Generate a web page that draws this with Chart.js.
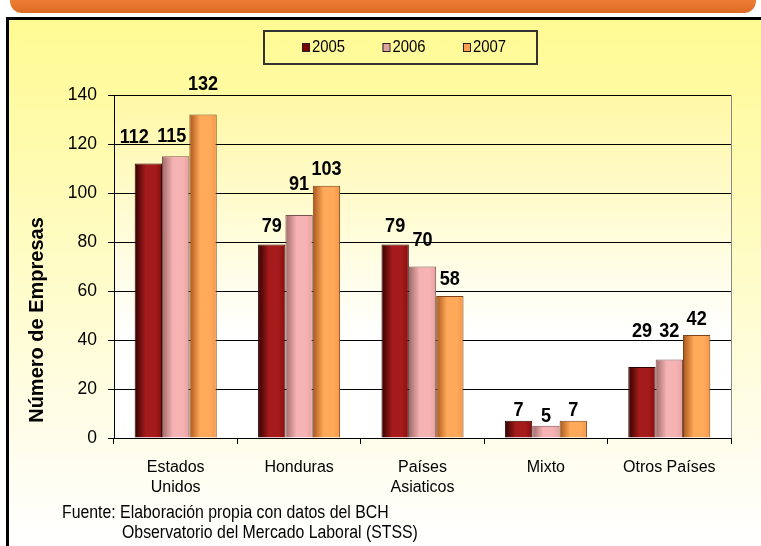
<!DOCTYPE html>
<html>
<head>
<meta charset="utf-8">
<script src="https://cdn.jsdelivr.net/npm/chart.js@4.4.1/dist/chart.umd.min.js"></script>
<style>
  html, body { margin: 0; padding: 0; background: #fff; }
  #wrap { width: 761px; height: 546px; position: relative; }
</style>
</head>
<body>
<div id="wrap"><canvas id="grafico" width="761" height="546"></canvas></div>
<script>
// Datos
const categorias = [['Estados', 'Unidos'], 'Honduras', ['Países', 'Asiaticos'], 'Mixto', 'Otros Países'];
const anios = ['2005', '2006', '2007'];
const valores2005 = [112, 79, 79, 7, 29];
const valores2006 = [115, 91, 70, 5, 32];
const valores2007 = [132, 103, 58, 7, 42];
const ejeMin = 0, ejeMax = 140, ejePaso = 20;
const tituloEje = 'Número de Empresas';
const fuente = ['Fuente: Elaboración propia con datos del BCH', 'Observatorio del Mercado Laboral (STSS)'];

// Estilo
const FAM = 'Arial, "Liberation Sans", sans-serif';
const CAT_PCT = 0.665;
const colores = [
  { dark: '#320000', light: '#a51b1b', mid: '#880c0c', line: '#2a0000', flat: '#800000' },
  { dark: '#a06868', light: '#f6b3b3', mid: '#e8a0a0', line: '#7a5050', flat: '#e0a0a0' },
  { dark: '#a8561a', light: '#ffaa5a', mid: '#f59848', line: '#7a4216', flat: '#ff9f4f' },
];
// separacion (px) entre la barra y su etiqueta, como en el original
const sepEtiqueta = [[21, 12, 12, 5, 30], [14, 25, 21, 4, 23], [25, 11, 11, 5, 10]];
const despX = [[-14, 0, 0, 0, 0], [-4, 0, 0, 0, 0], [0, 0, 0, 0, 0]];

// texto algo comprimido en horizontal, como el original
function texto(ctx, s, x, y, sx) {
  ctx.save();
  ctx.translate(x, y); ctx.scale(sx, 1);
  ctx.fillText(s, 0, 0);
  ctx.restore();
}

function rellenoBarra(ctx) {
  const c = colores[ctx.datasetIndex], chart = ctx.chart, xs = chart.scales.x;
  if (ctx.type !== 'data' || !xs || !chart.chartArea) return c.flat;
  const catW = (xs.right - xs.left) / categorias.length;
  const grupo = catW * CAT_PCT, ancho = grupo / anios.length;
  const x0 = xs.getPixelForValue(ctx.dataIndex) - grupo / 2 + ctx.datasetIndex * ancho;
  const g = chart.ctx.createLinearGradient(x0, 0, x0 + ancho, 0);
  g.addColorStop(0, c.dark); g.addColorStop(0.4, c.light); g.addColorStop(0.75, c.light); g.addColorStop(1, c.mid);
  return g;
}

const fondo = {
  id: 'fondo',
  beforeDraw(chart) {
    const { ctx, chartArea: a } = chart;
    ctx.save();
    // panel amarillo degradado
    let g = ctx.createLinearGradient(0, 18, 0, 546);
    g.addColorStop(0, '#fffa92'); g.addColorStop(0.75, '#fffde6'); g.addColorStop(1, '#ffffff');
    ctx.fillStyle = g; ctx.fillRect(7, 18, 761, 546);
    // area de trazado
    g = ctx.createLinearGradient(0, a.top, 0, a.bottom);
    g.addColorStop(0, '#fff8a6'); g.addColorStop(0.7, '#ffffff'); g.addColorStop(1, '#ffffff');
    ctx.fillStyle = g; ctx.fillRect(a.left, a.top, a.right - a.left, a.bottom - a.top);
    // franja naranja superior
    g = ctx.createLinearGradient(0, 0, 0, 14);
    g.addColorStop(0, '#ec7e33'); g.addColorStop(1, '#dc6a22');
    ctx.fillStyle = g;
    ctx.beginPath(); ctx.roundRect(10, -14, 746, 27, 12); ctx.fill();
    // marco negro
    ctx.strokeStyle = '#000'; ctx.lineWidth = 3;
    ctx.beginPath(); ctx.moveTo(7.5, 546); ctx.lineTo(7.5, 18.5); ctx.lineTo(761, 18.5); ctx.stroke();
    ctx.restore();
  },
  afterDraw(chart) {
    const { ctx, chartArea: a } = chart;
    ctx.save();
    // borde derecho del area de trazado
    ctx.strokeStyle = '#8a8a8a'; ctx.lineWidth = 1;
    ctx.beginPath(); ctx.moveTo(a.right + 0.5, a.top); ctx.lineTo(a.right + 0.5, a.bottom); ctx.stroke();
    // leyenda
    ctx.strokeStyle = '#333'; ctx.lineWidth = 2;
    ctx.strokeRect(264, 31, 273, 33);
    ctx.font = '16px ' + FAM; ctx.textBaseline = 'middle'; ctx.textAlign = 'left';
    anios.forEach((y, i) => {
      const x = 302 + i * 80.5;
      ctx.fillStyle = colores[i].flat; ctx.fillRect(x, 43, 7, 8);
      ctx.strokeStyle = '#222'; ctx.lineWidth = 1; ctx.strokeRect(x + 0.5, 43.5, 7, 8);
      ctx.fillStyle = '#000'; texto(ctx, y, x + 10, 48, 0.93);
    });
    // titulo del eje
    ctx.save();
    ctx.translate(43, 320); ctx.rotate(-Math.PI / 2);
    ctx.font = 'bold 20px ' + FAM; ctx.textAlign = 'center'; ctx.textBaseline = 'alphabetic';
    ctx.fillText(tituloEje, 0, 0);
    ctx.restore();
    // fuente
    ctx.font = '18px ' + FAM; ctx.textBaseline = 'alphabetic';
    texto(ctx, fuente[0], 62, 518, 0.88);
    texto(ctx, fuente[1], 122, 538, 0.88);
    ctx.restore();
  },
};

const etiquetas = {
  id: 'etiquetas',
  afterDatasetsDraw(chart) {
    const ctx = chart.ctx;
    ctx.save();
    ctx.font = 'bold 21px ' + FAM; ctx.fillStyle = '#000';
    ctx.textAlign = 'center'; ctx.textBaseline = 'alphabetic';
    chart.data.datasets.forEach((ds, i) => {
      chart.getDatasetMeta(i).data.forEach((bar, j) => {
        texto(ctx, String(ds.data[j]), bar.x + despX[i][j], bar.y - sepEtiqueta[i][j], 0.86);
      });
    });
    ctx.restore();
  },
};

const series = [valores2005, valores2006, valores2007];
new Chart(document.getElementById('grafico'), {
  type: 'bar',
  data: {
    labels: categorias,
    datasets: series.map((d, i) => ({
      label: anios[i], data: d,
      backgroundColor: rellenoBarra, borderColor: colores[i].line, borderWidth: 1,
      categoryPercentage: CAT_PCT, barPercentage: 1,
    })),
  },
  options: {
    responsive: false, animation: false, events: [],
    layout: { padding: { left: 0, right: 30, top: 95, bottom: 0 } },
    plugins: { legend: { display: false }, tooltip: { enabled: false } },
    scales: {
      x: {
        grid: { offset: true, drawOnChartArea: false, color: '#000', tickLength: 6 },
        border: { color: '#000' },
        ticks: { color: '#000', font: { family: FAM, size: 16, lineHeight: 1.25 }, padding: 14, maxRotation: 0, autoSkip: false },
        afterFit: (s) => { s.height = 108; },
      },
      y: {
        min: ejeMin, max: ejeMax,
        ticks: { stepSize: ejePaso, color: '#000', font: { family: FAM, size: 17.5 }, padding: 11 },
        grid: { color: '#000', tickLength: 6 },
        border: { color: '#000' },
        afterFit: (s) => { s.width = 114; },
      },
    },
  },
  plugins: [fondo, etiquetas],
});
</script>
</body>
</html>
